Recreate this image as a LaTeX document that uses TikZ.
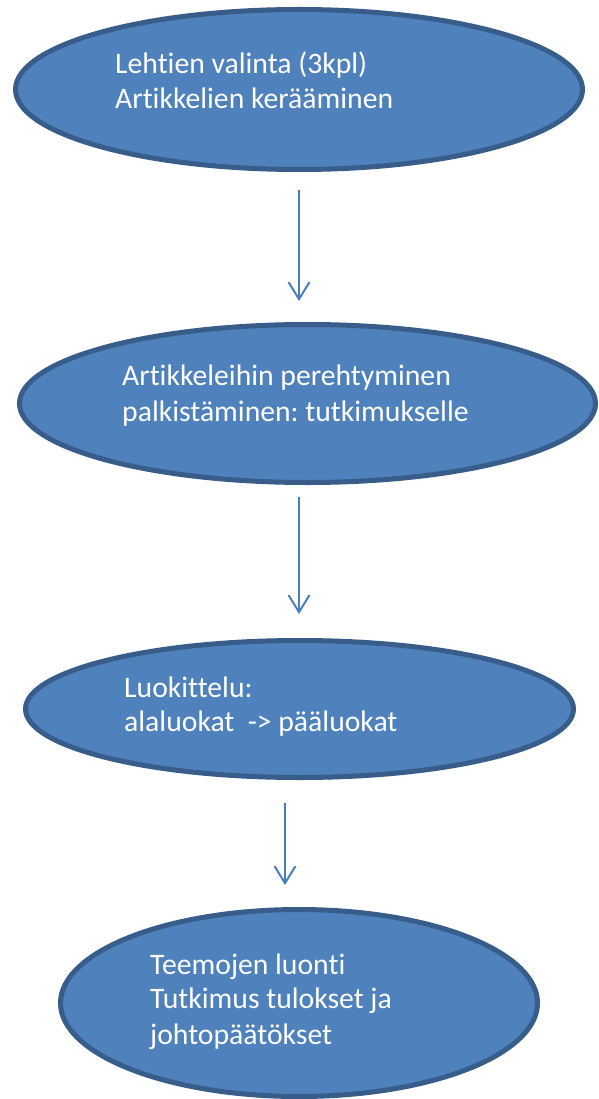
\documentclass[tikz,border=0pt]{standalone}
\usepackage{fontspec}
\setmainfont{Carlito}[Ligatures={NoCommon}]
\usetikzlibrary{shapes.geometric,arrows.meta}

\definecolor{stepfill}{HTML}{4F81BD}
\definecolor{stepline}{HTML}{385D8A}
\definecolor{flowarrow}{HTML}{4A7EBB}

\tikzset{
  stepbox/.style={ellipse, draw=stepline, fill=stepfill, line width=5pt,
    inner sep=0pt, outer sep=0pt},
  steptext/.style={anchor=base west, inner sep=0pt, text=white,
    font=\fontsize{29.7pt}{35pt}\selectfont},
  flow/.style={draw=flowarrow, line width=2pt,
    -{Straight Barb[length=17pt, width=21pt, line width=2pt]}}
}

\frenchspacing
\begin{document}
\begin{tikzpicture}[x=1pt, y=-1pt]
  \useasboundingbox (0,0) rectangle (598,1099);
  \fill[white] (0,0) rectangle (598,1099);

  % process steps
  \node[stepbox, minimum width=567pt, minimum height=160pt] (e1) at (299,89.5) {};
  \node[stepbox, minimum width=576pt, minimum height=158pt] (e2) at (307.5,403.5) {};
  \node[stepbox, minimum width=548pt, minimum height=137pt] (e3) at (299.5,709) {};
  \node[stepbox, minimum width=477pt, minimum height=187pt] (e4) at (299,1003) {};

  % step labels
  \node[steptext] (t1a) at (115,74) {Lehtien valinta (3kpl)};
  \node[steptext] (t1b) at (115,109) {Artikkelien kerääminen};

  \node[steptext] (t2a) at (122,385) {Artikkeleihin perehtyminen};
  \node[steptext] (t2b) at (122,421) {palkistäminen: tutkimukselle};

  \node[steptext] (t3a) at (124,697) {Luokittelu:};
  \node[steptext] (t3b) at (124,731) {alaluokat\ \ -> pääluokat};

  \node[steptext] (t4a) at (150,974) {Teemojen luonti};
  \node[steptext] (t4b) at (150,1008) {Tutkimus tulokset ja};
  \node[steptext] (t4c) at (150,1044) {johtopäätökset};

  % arrow end points between the steps
  \coordinate (a1s) at (299,190);
  \coordinate (a1e) at (299,301);
  \coordinate (a2s) at (299,497);
  \coordinate (a2e) at (299,614);
  \coordinate (a3s) at (285,803);
  \coordinate (a3e) at (285,885);

  \draw[flow] (a1s) -- (a1e);
  \draw[flow] (a2s) -- (a2e);
  \draw[flow] (a3s) -- (a3e);
\end{tikzpicture}
\end{document}
